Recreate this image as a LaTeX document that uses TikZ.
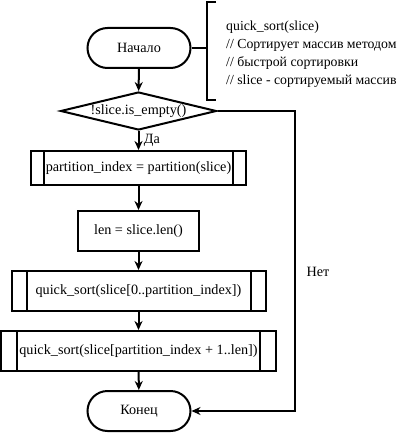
\documentclass[tikz,border=0pt]{standalone}
\usepackage{fontspec}
\setmainfont{Liberation Serif}
\usetikzlibrary{shapes.geometric,arrows.meta}

\tikzset{
	block/.style={draw, line width=2pt, minimum height=40pt, inner sep=2pt},
	term/.style={block, rounded corners=20pt, minimum width=103pt},
	cond/.style={draw, line width=2pt, diamond, aspect=4, inner sep=0pt,
		minimum width=156pt, minimum height=38pt},
	proc/.style={block, minimum width=#1},
	subproc/.style 2 args={block, minimum width=#1,
		path picture={
			\draw[line width=2pt]
			([xshift=#2]path picture bounding box.north west) -- ([xshift=#2]path picture bounding box.south west)
			([xshift=-#2]path picture bounding box.north east) -- ([xshift=-#2]path picture bounding box.south east);
		}},
	line/.style={line width=2pt, -{Stealth[length=9pt,width=8pt]}}
}

\begin{document}
\begin{tikzpicture}[x=1pt, y=-1pt, font=\fontsize{14.2}{16}\selectfont]
	\useasboundingbox (0,0) rectangle (400,433);

	% blocks
	\node[term] (start) at (139,48) {Начало};
	\node[cond] (cond) at (138.5,111) {!slice.is\_empty()};
	\node[subproc={215pt}{13pt}, minimum height=34pt] (part) at (138.5,168) {partition\_index = partition(slice)};
	\node[proc=121pt] (len) at (138.5,231) {len = slice.len()};
	\node[subproc={254pt}{15pt}] (left) at (138.5,291) {quick\_sort(slice[0..partition\_index])};
	\node[subproc={275pt}{16pt}] (right) at (138.5,351) {quick\_sort(slice[partition\_index + 1..len])};
	\node[term] (finish) at (139,411) {Конец};

	% comment
	\coordinate (brk) at (207,48);
	\draw[line width=2pt] (216,2) -- (207,2) -- (207,100) -- (216,100);
	\draw[line width=2pt] (start) -- (brk);
	\node[anchor=west, align=left, inner sep=0pt, font=\fontsize{13.8}{18}\selectfont] (note) at (226,54)
		{quick\_sort(slice)\\// Сортирует массив методом\\// быстрой сортировки\\// slice - сортируемый массив};

	% connectors
	\draw[line] (start) -- (cond);
	\draw[line] (cond) -- node[right, xshift=1pt] {Да} (part);
	\draw[line] (part) -- (len);
	\draw[line] (len) -- (left);
	\draw[line] (left) -- (right);
	\draw[line] (right) -- (finish);
	\coordinate (bend) at (295,111);
	\draw[line] (cond.east) -- (bend) |- (finish.east);
	\node (no) at (318,272) {Нет};
\end{tikzpicture}
\end{document}
